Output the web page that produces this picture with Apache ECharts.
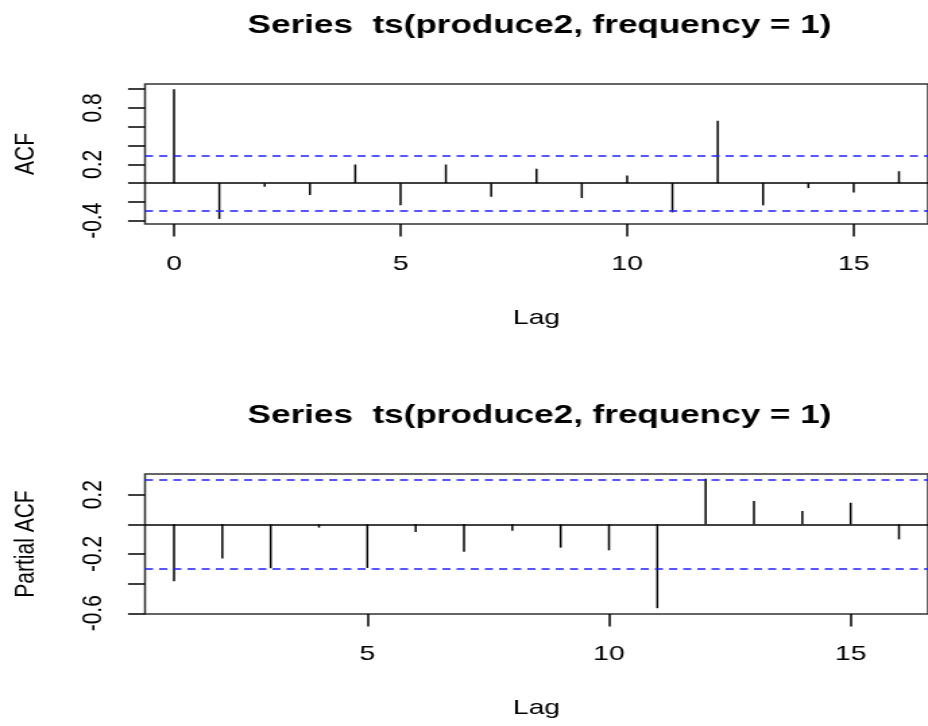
<!DOCTYPE html>
<html>
<head>
<meta charset="utf-8">
<script src="https://cdn.jsdelivr.net/npm/echarts@6/dist/echarts.min.js"></script>
<style>
  html, body { margin: 0; padding: 0; background: #fff; overflow: hidden; }
  /* the reference is stretched sideways, so draw narrow and scale x */
  #main { width: 688px; height: 726px; transform: scale(1.3488, 1); transform-origin: 0 0; }
</style>
</head>
<body>
<div id="main"></div>
<script>
const titleText = 'Series  ts(produce2, frequency = 1)'

const acfLags = [0, 1, 2, 3, 4, 5, 6, 7, 8, 9, 10, 11, 12, 13, 14, 15, 16]
const acfValues = [1.0, -0.381, -0.039, -0.127, 0.198, -0.236, 0.198, -0.145, 0.152, -0.159, 0.081, -0.311, 0.664, -0.236, -0.053, -0.099, 0.127]
const acfLimit = 0.29

const pacfLags = [1, 2, 3, 4, 5, 6, 7, 8, 9, 10, 11, 12, 13, 14, 15, 16]
const pacfValues = [-0.384, -0.231, -0.296, -0.022, -0.294, -0.052, -0.184, -0.043, -0.157, -0.175, -0.566, 0.308, 0.157, 0.090, 0.146, -0.101]
const pacfLimit = 0.30

const acfXTicks = [0, 5, 10, 15]
const pacfXTicks = [5, 10, 15]
const acfYTicks = [-0.4, -0.2, 0, 0.2, 0.4, 0.6, 0.8, 1.0]
const acfYLabels = [-0.4, 0.2, 0.8]
const pacfYTicks = [-0.6, -0.4, -0.2, 0, 0.2]
const pacfYLabels = [-0.6, -0.2, 0.2]

const font = 'Liberation Sans, Arial, sans-serif'

const stem = (params, api) => {
  const p0 = api.coord([api.value(0), 0])
  const p1 = api.coord([api.value(0), api.value(1)])
  return {
    type: 'line',
    shape: { x1: p0[0], y1: p0[1], x2: p1[0], y2: p1[1] },
    style: { stroke: '#000', lineWidth: 1.5 },
  }
}

const refLines = (limit) => ({
  silent: true,
  symbol: 'none',
  label: { show: false },
  animation: false,
  data: [
    { yAxis: 0, lineStyle: { color: '#000', type: 'solid', width: 1.5 } },
    { yAxis: limit, lineStyle: { color: '#2020ff', type: [6, 4.5], width: 1.5 } },
    { yAxis: -limit, lineStyle: { color: '#2020ff', type: [6, 4.5], width: 1.5 } },
  ],
})

const xAxis = (gridIndex, min, max, ticks) => ({
  type: 'value',
  gridIndex,
  min,
  max,
  name: 'Lag',
  nameLocation: 'middle',
  nameGap: 84,
  nameTextStyle: { fontFamily: font, fontSize: 21, color: '#000' },
  axisLine: { show: false, onZero: false },
  splitLine: { show: false },
  axisTick: { show: true, length: 12.6, customValues: ticks, lineStyle: { color: '#000', width: 1.5 } },
  axisLabel: { customValues: ticks, margin: 30, fontFamily: font, fontSize: 21, color: '#000' },
})

const yAxis = (gridIndex, min, max, ticks, labels, name) => ({
  type: 'value',
  gridIndex,
  min,
  max,
  name,
  nameLocation: 'middle',
  nameGap: 78,
  nameTextStyle: { fontFamily: font, fontSize: 21, color: '#000' },
  axisLine: { show: false, onZero: false },
  splitLine: { show: false },
  axisTick: { show: true, length: 12.6, customValues: ticks, lineStyle: { color: '#000', width: 1.5 } },
  axisLabel: {
    customValues: labels,
    rotate: 90,
    margin: 28,
    fontFamily: font,
    fontSize: 21,
    color: '#000',
  },
})

const myChart = echarts.init(document.getElementById('main'))
const option = {
  animation: false,
  backgroundColor: '#fff',
  title: [
    {
      text: titleText,
      left: 395,
      textAlign: 'center',
      top: 8,
      textStyle: { fontFamily: font, fontSize: 26, fontWeight: 'bold', color: '#000' },
    },
    {
      text: titleText,
      left: 395,
      textAlign: 'center',
      top: 398,
      textStyle: { fontFamily: font, fontSize: 26, fontWeight: 'bold', color: '#000' },
    },
  ],
  grid: [
    { left: 107.5, right: -6, top: 84, height: 140, containLabel: false, show: true, borderColor: '#333', borderWidth: 1.5, backgroundColor: 'transparent' },
    { left: 107.5, right: -6, top: 474, height: 140, containLabel: false, show: true, borderColor: '#333', borderWidth: 1.5, backgroundColor: 'transparent' },
  ],
  xAxis: [
    xAxis(0, -0.64, 16.64, acfXTicks),
    xAxis(1, 0.4, 16.6, pacfXTicks),
  ],
  yAxis: [
    yAxis(0, -0.435, 1.055, acfYTicks, acfYLabels, 'ACF'),
    yAxis(1, -0.605, 0.34, pacfYTicks, pacfYLabels, 'Partial ACF'),
  ],
  series: [
    {
      type: 'custom',
      xAxisIndex: 0,
      yAxisIndex: 0,
      renderItem: stem,
      data: acfLags.map((lag, i) => [lag, acfValues[i]]),
      markLine: refLines(acfLimit),
    },
    {
      type: 'custom',
      xAxisIndex: 1,
      yAxisIndex: 1,
      renderItem: stem,
      data: pacfLags.map((lag, i) => [lag, pacfValues[i]]),
      markLine: refLines(pacfLimit),
    },
  ],
}
myChart.setOption(option)
</script>
</body>
</html>
